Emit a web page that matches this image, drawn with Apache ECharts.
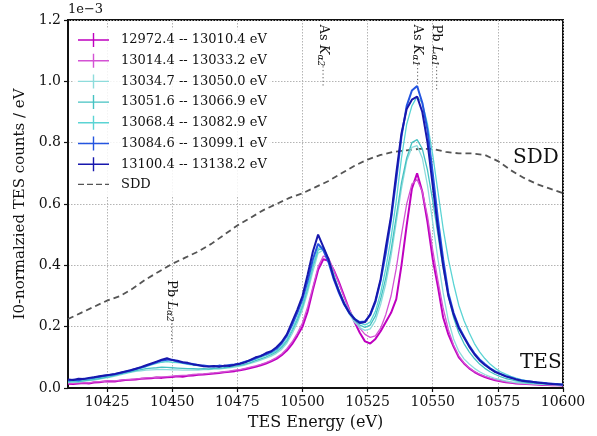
<!DOCTYPE html>
<html>
<head>
<meta charset="utf-8">
<script src="https://cdn.jsdelivr.net/npm/echarts@6/dist/echarts.min.js"></script>
<style>
  html, body { margin: 0; padding: 0; background: #fff; }
  #chart { width: 597px; height: 436px; }
</style>
</head>
<body>
<div id="chart"></div>
<script>
// TES energy axis (eV)
const energies = [10410, 10412, 10414, 10416, 10418, 10420, 10422, 10424, 10426, 10428,
  10430, 10432, 10434, 10436, 10438, 10440, 10442, 10444, 10446, 10448,
  10450, 10452, 10454, 10456, 10458, 10460, 10462, 10464, 10466, 10468,
  10470, 10472, 10474, 10476, 10478, 10480, 10482, 10484, 10486, 10488,
  10490, 10492, 10494, 10496, 10498, 10500, 10502, 10504, 10506, 10508,
  10510, 10512, 10514, 10516, 10518, 10520, 10522, 10524, 10526, 10528,
  10530, 10532, 10534, 10536, 10538, 10540, 10542, 10544, 10546, 10548,
  10550, 10552, 10554, 10556, 10558, 10560, 10562, 10564, 10566, 10568,
  10570, 10572, 10574, 10576, 10578, 10580, 10582, 10584, 10586, 10588,
  10590, 10592, 10594, 10596, 10598, 10600];

// incident energy windows (legend)
const windowNames = ['12972.4 -- 13010.4 eV', '13014.4 -- 13033.2 eV', '13034.7 -- 13050.0 eV',
  '13051.6 -- 13066.9 eV', '13068.4 -- 13082.9 eV', '13084.6 -- 13099.1 eV', '13100.4 -- 13138.2 eV'];
const windowColors = ['#bf00bf', '#d452d4', '#8edcdc', '#45c2c2', '#5ad4d4', '#2455e0', '#1717ad'];
const windowWidths = [2, 1.3, 1.3, 1.3, 1.3, 2, 2];

// counts / eV, in units of 1e-3
const w1 = [0.014, 0.013, 0.015, 0.016, 0.015, 0.018, 0.019, 0.021, 0.022, 0.021, 0.024, 0.026, 0.027, 0.028, 0.030, 0.031,
  0.032, 0.034, 0.033, 0.035, 0.036, 0.038, 0.037, 0.040, 0.041, 0.043, 0.044, 0.046, 0.047, 0.049, 0.051, 0.053, 0.055, 0.058, 0.061, 0.065, 0.069, 0.074, 0.080, 0.087, 0.095,
  0.107, 0.122, 0.143, 0.170, 0.200, 0.250, 0.320, 0.385, 0.420, 0.415, 0.385, 0.345, 0.300, 0.255, 0.215, 0.180, 0.152, 0.145, 0.160, 0.185,
  0.215, 0.245, 0.290, 0.400, 0.530, 0.650, 0.700, 0.640, 0.540, 0.420, 0.330, 0.230, 0.175, 0.135, 0.100,
  0.080, 0.064, 0.052, 0.043, 0.036, 0.030, 0.025, 0.022, 0.019, 0.017, 0.015, 0.014, 0.013, 0.012, 0.011, 0.010, 0.010, 0.009, 0.009, 0.008];
const w2 = [0.016, 0.015, 0.017, 0.018, 0.017, 0.020, 0.021, 0.022, 0.024, 0.023, 0.026, 0.027, 0.028, 0.030, 0.031, 0.033,
  0.034, 0.035, 0.036, 0.037, 0.039, 0.040, 0.041, 0.042, 0.044, 0.045, 0.046, 0.048, 0.049, 0.051, 0.053, 0.055, 0.058, 0.060, 0.064, 0.068, 0.072, 0.077, 0.083, 0.090, 0.099,
  0.111, 0.128, 0.150, 0.178, 0.212, 0.265, 0.330, 0.395, 0.430, 0.425, 0.385, 0.340, 0.295, 0.255, 0.222, 0.195, 0.175, 0.165, 0.170, 0.195,
  0.240, 0.300, 0.390, 0.500, 0.600, 0.665, 0.680, 0.640, 0.560, 0.450, 0.350, 0.260, 0.190, 0.140, 0.105,
  0.082, 0.066, 0.054, 0.045, 0.038, 0.032, 0.027, 0.023, 0.020, 0.018, 0.016, 0.014, 0.013, 0.012, 0.011, 0.010, 0.010, 0.009, 0.009, 0.008];
const w3 = [0.018, 0.020, 0.019, 0.022, 0.024, 0.026, 0.029, 0.032, 0.035, 0.039, 0.043, 0.047, 0.051, 0.054, 0.056, 0.058,
  0.059, 0.060, 0.061, 0.060, 0.059, 0.059, 0.058, 0.058, 0.059, 0.058, 0.060, 0.060, 0.062, 0.062, 0.064, 0.066, 0.068, 0.071, 0.075, 0.080, 0.085, 0.091, 0.097, 0.104, 0.113,
  0.126, 0.146, 0.176, 0.212, 0.255, 0.312, 0.380, 0.440, 0.450, 0.415, 0.365, 0.315, 0.273, 0.240, 0.215, 0.197, 0.188, 0.193, 0.220, 0.272,
  0.340, 0.430, 0.540, 0.650, 0.740, 0.785, 0.790, 0.750, 0.660, 0.540, 0.420, 0.310, 0.220, 0.160, 0.120,
  0.095, 0.078, 0.064, 0.053, 0.044, 0.037, 0.031, 0.027, 0.023, 0.020, 0.018, 0.016, 0.015, 0.014, 0.013, 0.012, 0.011, 0.011, 0.010, 0.010];
const w4 = [0.020, 0.022, 0.021, 0.024, 0.026, 0.028, 0.031, 0.034, 0.037, 0.041, 0.045, 0.049, 0.053, 0.057, 0.060, 0.063,
  0.065, 0.066, 0.068, 0.067, 0.066, 0.065, 0.064, 0.063, 0.063, 0.062, 0.063, 0.062, 0.064, 0.065, 0.066, 0.068, 0.071, 0.074, 0.078, 0.083, 0.089, 0.095, 0.101, 0.109, 0.118,
  0.132, 0.153, 0.185, 0.222, 0.265, 0.325, 0.395, 0.450, 0.455, 0.418, 0.368, 0.318, 0.277, 0.245, 0.222, 0.205, 0.198, 0.205, 0.235, 0.290,
  0.360, 0.450, 0.560, 0.670, 0.750, 0.800, 0.810, 0.780, 0.710, 0.610, 0.500, 0.390, 0.300, 0.230, 0.180,
  0.145, 0.118, 0.096, 0.078, 0.064, 0.053, 0.044, 0.037, 0.031, 0.027, 0.023, 0.020, 0.018, 0.016, 0.015, 0.014, 0.013, 0.012, 0.011, 0.010];
const w5 = [0.022, 0.024, 0.023, 0.027, 0.029, 0.031, 0.034, 0.037, 0.040, 0.043, 0.047, 0.051, 0.055, 0.060, 0.065, 0.070,
  0.075, 0.080, 0.084, 0.086, 0.084, 0.083, 0.080, 0.077, 0.075, 0.073, 0.071, 0.070, 0.071, 0.070, 0.072, 0.074, 0.076, 0.079, 0.083, 0.088, 0.094, 0.100, 0.106, 0.113, 0.122,
  0.136, 0.158, 0.190, 0.228, 0.272, 0.330, 0.400, 0.455, 0.460, 0.420, 0.370, 0.320, 0.280, 0.250, 0.228, 0.212, 0.206, 0.215, 0.250, 0.310,
  0.390, 0.490, 0.610, 0.750, 0.860, 0.920, 0.950, 0.930, 0.860, 0.760, 0.640, 0.520, 0.420, 0.340, 0.270,
  0.220, 0.180, 0.145, 0.118, 0.096, 0.078, 0.064, 0.053, 0.045, 0.038, 0.032, 0.027, 0.024, 0.021, 0.019, 0.017, 0.015, 0.014, 0.013, 0.012];
const w6 = [0.024, 0.027, 0.025, 0.030, 0.031, 0.034, 0.037, 0.040, 0.042, 0.045, 0.049, 0.053, 0.057, 0.062, 0.067, 0.072,
  0.078, 0.084, 0.090, 0.092, 0.092, 0.086, 0.083, 0.080, 0.078, 0.074, 0.073, 0.071, 0.070, 0.073, 0.071, 0.075, 0.077, 0.080, 0.086, 0.090, 0.097, 0.105, 0.110, 0.118, 0.128,
  0.145, 0.170, 0.205, 0.245, 0.290, 0.350, 0.420, 0.470, 0.450, 0.410, 0.355, 0.310, 0.272, 0.245, 0.225, 0.215, 0.217, 0.238, 0.280, 0.350,
  0.440, 0.550, 0.680, 0.820, 0.920, 0.970, 0.985, 0.930, 0.840, 0.700, 0.550, 0.420, 0.310, 0.245, 0.200,
  0.168, 0.138, 0.113, 0.093, 0.078, 0.064, 0.054, 0.046, 0.039, 0.034, 0.029, 0.025, 0.022, 0.020, 0.018, 0.017, 0.015, 0.014, 0.012, 0.011];
const w7 = [0.028, 0.026, 0.030, 0.029, 0.033, 0.035, 0.038, 0.041, 0.043, 0.046, 0.050, 0.054, 0.058, 0.063, 0.068, 0.074,
  0.080, 0.086, 0.092, 0.097, 0.091, 0.089, 0.084, 0.082, 0.077, 0.075, 0.071, 0.070, 0.072, 0.069, 0.073, 0.072, 0.076, 0.079, 0.084, 0.092, 0.100, 0.104, 0.114, 0.120, 0.133,
  0.150, 0.175, 0.215, 0.255, 0.300, 0.370, 0.445, 0.500, 0.460, 0.420, 0.360, 0.315, 0.275, 0.245, 0.225, 0.212, 0.215, 0.240, 0.285, 0.355,
  0.460, 0.560, 0.700, 0.830, 0.910, 0.940, 0.950, 0.900, 0.800, 0.660, 0.520, 0.400, 0.300, 0.240, 0.195,
  0.165, 0.135, 0.110, 0.090, 0.075, 0.063, 0.052, 0.045, 0.038, 0.033, 0.028, 0.024, 0.022, 0.020, 0.018, 0.016, 0.015, 0.013, 0.012, 0.011];
const windowValues = [w1, w2, w3, w4, w5, w6, w7];

// SDD spectrum, same units, 5 eV steps
const sddEnergies = [10410, 10415, 10420, 10425, 10430, 10435, 10440, 10445, 10450, 10455,
  10460, 10465, 10470, 10475, 10480, 10485, 10490, 10495, 10500, 10505,
  10510, 10515, 10520, 10525, 10530, 10535, 10540, 10545, 10550, 10555,
  10560, 10565, 10570, 10575, 10580, 10585, 10590, 10595, 10600];
const sddValues = [0.225, 0.245, 0.265, 0.285, 0.300, 0.325, 0.355, 0.380, 0.405, 0.425,
  0.445, 0.470, 0.500, 0.530, 0.555, 0.580, 0.600, 0.620, 0.635, 0.655,
  0.675, 0.700, 0.725, 0.745, 0.760, 0.770, 0.775, 0.780, 0.780, 0.770,
  0.765, 0.765, 0.760, 0.740, 0.710, 0.685, 0.665, 0.650, 0.635];

const xTicks = [10425, 10450, 10475, 10500, 10525, 10550, 10575, 10600];

// emission line markers: energy, text top, dotted line from/to
const lineNames = ['As K', 'As K', 'Pb L', 'Pb L'];
const lineSubs = ['α2', 'α1', 'α1', 'α2'];
const lineEnergies = [10507.9, 10544.2, 10551.5, 10449.8];
const lineTextTop = [1.185, 1.185, 1.185, 0.352];
const lineDotFrom = [1.049, 1.055, 1.060, 0.222];
const lineDotTo = [0.981, 0.975, 0.968, 0.148];

const serif = 'DejaVu Serif';
const frameColor = '#111';
const chart = echarts.init(document.getElementById('chart'));

const plusIcon = 'path://M0,6.3h31v1.4h-31z M14.8,0h1.4v14h-1.4z';
const dashIcon = 'path://M0,6.3h6v1.4h-6z M9,6.3h6v1.4h-6z M18,6.3h6v1.4h-6z M27,6.3h4v1.4h-4z';

const series = windowNames.map(function (name, i) {
  return {
    name: name,
    type: 'line',
    showSymbol: false,
    symbol: 'none',
    data: energies.map(function (e, k) { return [e, windowValues[i][k]]; }),
    lineStyle: { color: windowColors[i], width: windowWidths[i] },
    itemStyle: { color: windowColors[i] },
    z: 3 + i
  };
});
series.push({
  name: 'SDD',
  type: 'line',
  showSymbol: false,
  symbol: 'none',
  data: sddEnergies.map(function (e, k) { return [e, sddValues[k]]; }),
  lineStyle: { color: '#555', width: 1.8, type: [6, 4] },
  itemStyle: { color: '#555' },
  z: 2
});

const legendData = windowNames.map(function (name) { return { name: name, icon: plusIcon }; });
legendData.push({ name: 'SDD', icon: dashIcon });

// dotted grey grid lines
const gridLine = { show: true, lineStyle: { color: '#b4b4b4', type: [1.5, 1.5], width: 1 } };

option = {
  animation: false,
  textStyle: { fontFamily: serif },
  // plot frame drawn as the grid border
  grid: { left: 68, right: 34, top: 20, bottom: 45, show: true, borderColor: frameColor, borderWidth: 2 },
  legend: {
    data: legendData,
    orient: 'vertical',
    left: 73,
    top: 28,
    itemWidth: 31,
    itemHeight: 14,
    itemGap: 6.7,
    backgroundColor: 'rgba(255,255,255,0.85)',
    textStyle: { fontFamily: serif, fontSize: 13, color: '#111', padding: [0, 0, 0, 7] }
  },
  xAxis: {
    type: 'value',
    min: 10410,
    max: 10600,
    name: 'TES Energy (eV)',
    nameLocation: 'middle',
    nameGap: 27,
    nameTextStyle: { fontFamily: serif, fontSize: 16, color: '#111' },
    axisLine: { show: true, onZero: false, lineStyle: { color: frameColor, width: 2 } },
    axisTick: { show: true, length: 4, lineStyle: { color: frameColor, width: 1.2 }, customValues: xTicks },
    axisLabel: {
      fontFamily: serif, fontSize: 14, color: '#111', margin: 7, customValues: xTicks,
      formatter: function (v) { return String(v); }
    },
    splitLine: gridLine
  },
  yAxis: {
    type: 'value',
    min: 0,
    max: 1.2,
    interval: 0.2,
    name: 'I0-normalzied TES counts / eV',
    nameLocation: 'middle',
    nameGap: 36,
    nameTextStyle: { fontFamily: serif, fontSize: 15, color: '#111' },
    axisLine: { show: true, onZero: false, lineStyle: { color: frameColor, width: 2 } },
    axisTick: { show: true, length: 4, lineStyle: { color: frameColor, width: 1.2 } },
    axisLabel: {
      fontFamily: serif, fontSize: 14, color: '#111', margin: 7,
      formatter: function (v) { return v.toFixed(1); }
    },
    splitLine: gridLine
  },
  series: series
};

chart.setOption(option);

// text labels and emission line markers
const graphics = [
  { type: 'text', left: 68, top: 3, style: { text: '1e\u22123', font: '13px ' + serif, fill: '#111' } },
  { type: 'text', left: 513, top: 148, style: { text: 'SDD', font: '20px ' + serif, fill: '#111' } },
  { type: 'text', left: 520, top: 353, style: { text: 'TES', font: '20px ' + serif, fill: '#111' } }
];
lineEnergies.forEach(function (e, i) {
  const top = chart.convertToPixel({ gridIndex: 0 }, [e, lineTextTop[i]]);
  const a = chart.convertToPixel({ gridIndex: 0 }, [e, lineDotFrom[i]]);
  const b = chart.convertToPixel({ gridIndex: 0 }, [e, lineDotTo[i]]);
  graphics.push({
    type: 'text',
    x: top[0], y: top[1],
    rotation: -Math.PI / 2,
    style: {
      text: '{n|' + lineNames[i].slice(0, 3) + '}{k|' + lineNames[i].slice(3) + '}{s|' + lineSubs[i] + '}',
      align: 'left',
      verticalAlign: 'middle',
      rich: {
        n: { fontFamily: serif, fontSize: 13, fill: '#111' },
        k: { fontFamily: serif, fontSize: 13, fontStyle: 'italic', fill: '#111' },
        s: { fontFamily: serif, fontSize: 9, fontStyle: 'italic', fill: '#111', padding: [5, 0, 0, 0] }
      }
    }
  });
  graphics.push({
    type: 'line',
    shape: { x1: a[0], y1: a[1], x2: b[0], y2: b[1] },
    style: { stroke: '#555', lineWidth: 1, lineDash: [1.2, 2.4] }
  });
});
chart.setOption({ graphic: graphics });
</script>
</body>
</html>
